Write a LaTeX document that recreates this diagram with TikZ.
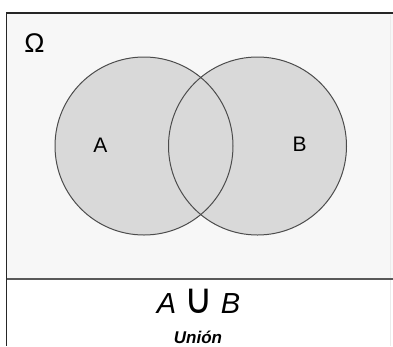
\documentclass[tikz,border=0pt]{standalone}
\usepackage{fontspec}
\setmainfont{Liberation Sans}
\newfontfamily\symfont{DejaVu Sans}
\begin{document}
\begin{tikzpicture}[x=1pt,y=-1pt,
  frame/.style={draw=black!85,line width=1.6pt},
  setcircle/.style={draw=black!70,line width=1pt},
  lab/.style={inner sep=0pt,anchor=base}]
\useasboundingbox (0,0) rectangle (393,346);
\fill[white] (0,0) rectangle (393,346);
\fill[black!3] (6.5,13) rectangle (393,279);
\draw[black!8,line width=0.8pt] (390,15) -- (390,346);
% circles
\fill[black!15] (144,146) circle[radius=89];
\fill[black!15] (257.5,146) circle[radius=89];
\draw[setcircle] (144,146) circle[radius=89];
\draw[setcircle] (257.5,146) circle[radius=89];
% frame
\coordinate (tl) at (6.5,13);
\coordinate (tr) at (393,13);
\coordinate (bl) at (6.5,346);
\coordinate (ml) at (6.5,279);
\coordinate (mr) at (393,279);
\draw[frame] (tr) -- (tl) -- (bl);
\draw[black!65,line width=1.6pt] (ml) -- (mr);
% labels
\node[lab,font=\fontsize{27}{27}\selectfont] (omega) at (34.5,52) {Ω};
\node[lab,font=\fontsize{21}{21}\selectfont] (A) at (100.5,152) {A};
\node[lab,font=\fontsize{21}{21}\selectfont] (B) at (299.5,151) {B};
\node[lab,font=\fontsize{29}{29}\selectfont] (AuB) at (198.5,313) {\itshape A \upshape{\symfont\scalebox{1.35}[1.45]{∪}} \itshape B};
\node[lab,font=\fontsize{17}{17}\selectfont\bfseries\itshape] (union) at (198,343.5) {Unión};
\end{tikzpicture}
\end{document}
